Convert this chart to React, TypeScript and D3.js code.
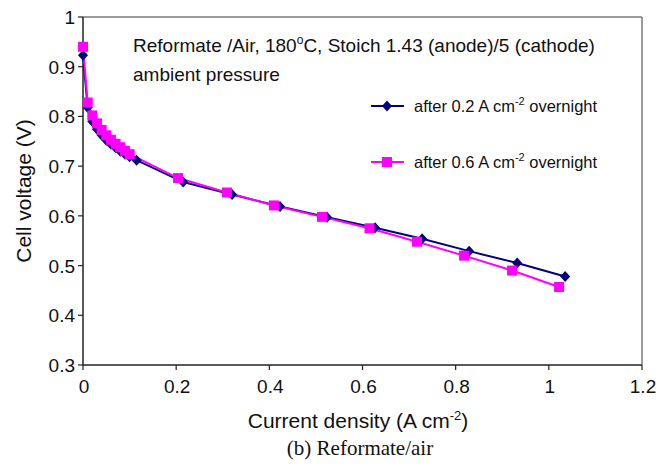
import React from "react";
import * as d3 from "d3";

const xTicks = [0, 0.2, 0.4, 0.6, 0.8, 1, 1.2];
const yTicks = [0.3, 0.4, 0.5, 0.6, 0.7, 0.8, 0.9, 1];

const navyX = [0, 0.01, 0.02, 0.03, 0.04, 0.05, 0.06, 0.07, 0.08, 0.09, 0.1, 0.115, 0.215, 0.32, 0.423, 0.524, 0.627, 0.728, 0.829, 0.932, 1.035];
const navyY = [0.923, 0.818, 0.79, 0.774, 0.762, 0.752, 0.744, 0.737, 0.73, 0.724, 0.719, 0.712, 0.668, 0.643, 0.619, 0.597, 0.576, 0.554, 0.529, 0.505, 0.478];

const pinkX = [0, 0.01, 0.02, 0.03, 0.04, 0.05, 0.06, 0.07, 0.08, 0.09, 0.1, 0.204, 0.309, 0.41, 0.513, 0.615, 0.717, 0.818, 0.921, 1.022];
const pinkY = [0.94, 0.828, 0.802, 0.786, 0.773, 0.762, 0.753, 0.745, 0.738, 0.731, 0.724, 0.676, 0.647, 0.621, 0.598, 0.575, 0.548, 0.52, 0.49, 0.457];

const NAVY = "#000080";
const PINK = "#ff00ff";
const SANS = "'Liberation Sans', Arial, sans-serif";

export default function App() {
  const left = 83, right = 642, top = 17, bottom = 365;
  const x = d3.scaleLinear().domain([0, 1.2]).range([left, right]);
  const y = d3.scaleLinear().domain([0.3, 1]).range([bottom, top]);
  const line = d3.line<[number, number]>().x((d) => x(d[0])).y((d) => y(d[1]));
  const navy: [number, number][] = navyX.map((v, i) => [v, navyY[i]]);
  const pink: [number, number][] = pinkX.map((v, i) => [v, pinkY[i]]);
  const diamond = (cx: number, cy: number) => `M${cx},${cy - 5.5}L${cx + 5},${cy}L${cx},${cy + 5.5}L${cx - 5},${cy}Z`;

  return (
    <svg width={672} height={465} style={{ position: "absolute", left: 0, top: 0, background: "#fff" }} fontFamily={SANS}>
      <rect x={0} y={0} width={672} height={465} fill="#fff" />
      {/* frame */}
      <line x1={left} y1={top} x2={right} y2={top} stroke="#7a7a7a" strokeWidth={1.5} />
      <line x1={right} y1={top} x2={right} y2={bottom} stroke="#7a7a7a" strokeWidth={1.5} />
      <line x1={left} y1={top} x2={left} y2={bottom} stroke="#222" strokeWidth={1.5} />
      <line x1={left} y1={bottom} x2={right} y2={bottom} stroke="#222" strokeWidth={1.5} />
      {yTicks.map((t) => (
        <g key={"y" + t}>
          <line x1={left - 5} x2={left} y1={y(t)} y2={y(t)} stroke="#222" strokeWidth={1.2} />
          <text x={left - 8} y={y(t) + 7} fontSize={19} textAnchor="end" fill="#111">{t}</text>
        </g>
      ))}
      {xTicks.map((t) => (
        <g key={"x" + t}>
          <line x1={x(t)} x2={x(t)} y1={bottom} y2={bottom + 5} stroke="#222" strokeWidth={1.2} />
          <text x={x(t) + 1} y={bottom + 28} fontSize={19} textAnchor="middle" fill="#111">{t}</text>
        </g>
      ))}
      <text transform={`translate(31,${(top + bottom) / 2}) rotate(-90)`} fontSize={21} textAnchor="middle" fill="#111">Cell voltage (V)</text>
      <text x={358} y={428} fontSize={21} textAnchor="middle" fill="#111">
        Current density (A cm<tspan dy={-8} fontSize={13}>-2</tspan><tspan dy={8}>)</tspan>
      </text>
      <text x={360} y={455} fontSize={21} textAnchor="middle" fill="#111" fontFamily="'Liberation Serif', 'Times New Roman', serif">(b) Reformate/air</text>

      {/* series */}
      <path d={line(navy) || ""} fill="none" stroke={NAVY} strokeWidth={2} />
      <path d={line(pink) || ""} fill="none" stroke={PINK} strokeWidth={2} />
      {navy.map((d, i) => (
        <path key={"n" + i} d={diamond(x(d[0]), y(d[1]))} fill={NAVY} />
      ))}
      {pink.map((d, i) => (
        <rect key={"p" + i} x={x(d[0]) - 5} y={y(d[1]) - 5} width={10} height={10} fill={PINK} />
      ))}

      {/* annotation */}
      <text x={133} y={52} fontSize={19} fill="#111">
        Reformate /Air, 180<tspan dy={-8} fontSize={12}>o</tspan><tspan dy={8}>C, Stoich 1.43 (anode)/5 (cathode)</tspan>
      </text>
      <text x={133} y={81} fontSize={19} fill="#111">ambient pressure</text>

      {/* legend */}
      <line x1={371} x2={404} y1={106} y2={106} stroke={NAVY} strokeWidth={2} />
      <path d={diamond(387, 106)} fill={NAVY} />
      <text x={414} y={112} fontSize={16.5} fill="#111">
        after 0.2 A cm<tspan dy={-7} fontSize={11}>-2</tspan><tspan dy={7}> overnight</tspan>
      </text>
      <line x1={371} x2={404} y1={162} y2={162} stroke={PINK} strokeWidth={2} />
      <rect x={387 - 5} y={162 - 5} width={10} height={10} fill={PINK} />
      <text x={414} y={168} fontSize={16.5} fill="#111">
        after 0.6 A cm<tspan dy={-7} fontSize={11}>-2</tspan><tspan dy={7}> overnight</tspan>
      </text>
    </svg>
  );
}
